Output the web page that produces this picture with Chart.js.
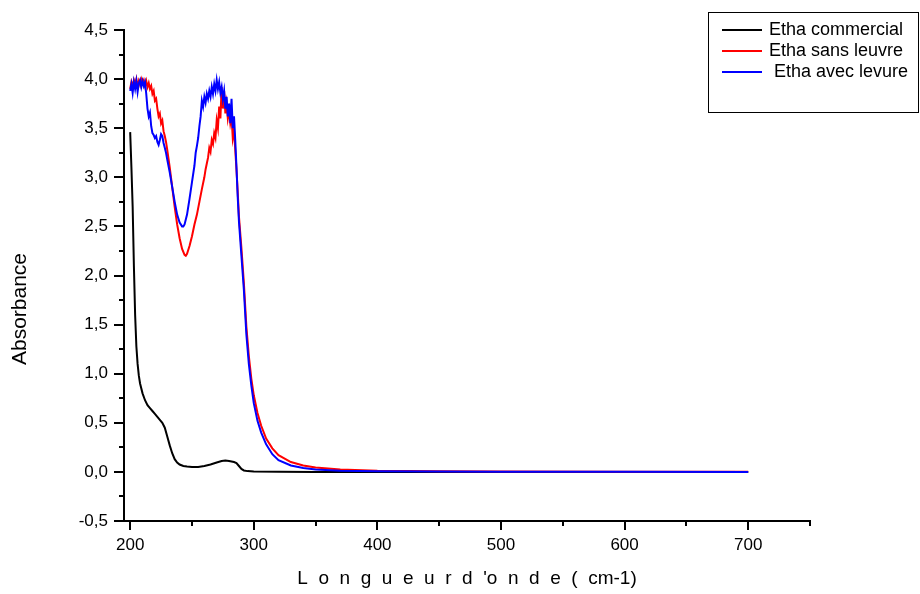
<!DOCTYPE html>
<html>
<head>
<meta charset="utf-8">
<script src="https://cdn.jsdelivr.net/npm/chart.js@4.4.1/dist/chart.umd.min.js"></script>
<style>
  html, body { margin: 0; padding: 0; background: #fff; }
  #wrap { width: 920px; height: 594px; position: relative; }
</style>
</head>
<body>
<div id="wrap"><canvas id="c"></canvas></div>
<script>
// Wavelength (nm) and absorbance for each sample
const commercialNm = [200,201,202,203,204,205,206,207,208,210,212,214,216,218,220,222,224,226,228,230,232,234,236,238,240,243,246,250,255,260,265,270,274,277,280,284,286,288,290,292,295,300,320,350,400,500,600,700];
const commercialAbs = [3.46,3.10,2.70,2.10,1.60,1.28,1.10,0.98,0.90,0.80,0.73,0.68,0.65,0.62,0.59,0.56,0.53,0.50,0.45,0.36,0.27,0.19,0.13,0.095,0.075,0.06,0.055,0.05,0.05,0.06,0.075,0.095,0.11,0.115,0.11,0.10,0.09,0.06,0.03,0.015,0.008,0.005,0.002,0.0,-0.002,-0.002,-0.002,-0.002];

const sansNm = [200,201,202,203,204,205,206,207,208,209,210,211,212,213,214,215,216,217,218,219,220,221,222,223,224,225,226,227,228,229,230,232,234,236,238,240,242,244,245,246,248,250,252,254,256,258,260,261,262,263,264,265,266,267,268,269,270,271,272,273,274,275,276,277,278,279,280,281,282,283,284,285,286,287,288,290,292,294,296,298,300,303,306,310,315,320,330,340,350,370,400,450,500,600,700];
const sansAbs = [3.90,3.97,3.93,3.99,3.95,4.00,3.92,3.98,3.94,4.00,3.96,3.99,3.93,3.98,3.92,3.96,3.90,3.93,3.85,3.88,3.78,3.80,3.70,3.62,3.65,3.55,3.58,3.47,3.42,3.36,3.28,3.10,2.90,2.70,2.52,2.38,2.27,2.21,2.20,2.22,2.30,2.40,2.52,2.62,2.75,2.88,3.00,3.08,3.14,3.20,3.30,3.26,3.38,3.34,3.45,3.40,3.58,3.50,3.72,3.60,3.92,3.70,3.88,3.65,3.75,3.60,3.68,3.55,3.62,3.40,3.48,3.28,3.08,2.85,2.60,2.28,1.92,1.48,1.18,0.95,0.78,0.60,0.47,0.34,0.24,0.17,0.10,0.065,0.045,0.025,0.012,0.006,0.004,0.002,0.001];

const avecNm = [200,201,202,203,204,205,206,207,208,209,210,211,212,213,214,215,216,217,218,219,220,221,222,223,224,225,226,227,228,229,230,232,234,236,238,240,242,243,244,246,248,250,252,253,254,255,256,257,258,259,260,261,262,263,264,265,266,267,268,269,270,271,272,273,274,275,276,277,278,279,280,281,282,283,284,285,286,287,288,290,292,294,296,298,300,303,306,310,315,320,330,340,350,370,400,450,500,600,700];
const avecAbs = [3.88,3.95,3.86,3.97,3.90,3.98,3.87,3.96,3.99,3.92,3.98,3.93,3.97,3.85,3.70,3.62,3.66,3.52,3.45,3.43,3.40,3.42,3.36,3.33,3.38,3.44,3.42,3.35,3.30,3.25,3.18,3.05,2.90,2.75,2.62,2.54,2.50,2.50,2.52,2.62,2.78,2.95,3.12,3.25,3.32,3.40,3.52,3.62,3.78,3.72,3.82,3.76,3.85,3.80,3.88,3.82,3.92,3.85,3.95,3.88,3.99,3.90,3.97,3.86,3.92,3.80,3.88,3.70,3.82,3.62,3.75,3.55,3.80,3.50,3.62,3.38,3.10,2.80,2.55,2.20,1.85,1.40,1.10,0.88,0.70,0.52,0.40,0.28,0.18,0.12,0.065,0.04,0.025,0.012,0.006,0.003,0.002,0.001,0.0];

const xMajorTicks = [200,300,400,500,600,700];
const xMinorTicks = [250,350,450,550,650,750];
const yMajorTicks = [-0.5,0,0.5,1,1.5,2,2.5,3,3.5,4,4.5];
const yMinorTicks = [-0.25,0.25,0.75,1.25,1.75,2.25,2.75,3.25,3.75,4.25];

const seriesNames = ['Etha commercial', 'Etha sans leuvre', ' Etha avec levure'];
const seriesColors = ['#000000', '#ff0000', '#0000ff'];

const FONT = "'Liberation Sans', Arial, sans-serif";

function pts(xs, ys) { return xs.map((x, i) => ({ x: x, y: ys[i] })); }

// Small outward minor tick marks on both axes
const minorTicks = {
  id: 'minorTicks',
  afterDraw(chart) {
    const ctx = chart.ctx, xs = chart.scales.x, ys = chart.scales.y;
    const area = chart.chartArea;
    ctx.save();
    ctx.strokeStyle = '#000';
    ctx.lineWidth = 2;
    ctx.beginPath();
    xMinorTicks.forEach(v => {
      const px = Math.round(xs.getPixelForValue(v));
      ctx.moveTo(px, area.bottom); ctx.lineTo(px, area.bottom + 5);
    });
    yMinorTicks.forEach(v => {
      const py = Math.round(ys.getPixelForValue(v));
      ctx.moveTo(area.left, py); ctx.lineTo(area.left - 5, py);
    });
    ctx.stroke();
    ctx.restore();
  }
};

// Framed legend box and vertical axis title
const decorations = {
  id: 'decorations',
  afterDraw(chart) {
    const ctx = chart.ctx;
    ctx.save();
    ctx.strokeStyle = '#000';
    ctx.lineWidth = 1;
    ctx.strokeRect(708.5, 12.5, 210, 100);
    ctx.font = '18px ' + FONT;
    ctx.textBaseline = 'middle';
    ctx.fillStyle = '#000';
    const rows = [30, 51, 72];
    chart.data.datasets.forEach((ds, i) => {
      ctx.strokeStyle = ds.borderColor;
      ctx.lineWidth = 2;
      ctx.beginPath();
      ctx.moveTo(722, rows[i]); ctx.lineTo(762, rows[i]);
      ctx.stroke();
      ctx.fillText(ds.label, 769, rows[i]);
    });
    ctx.translate(20, 309);
    ctx.rotate(-Math.PI / 2);
    ctx.textAlign = 'center';
    ctx.font = '21px ' + FONT;
    ctx.fillText('Absorbance', 0, 0);
    ctx.restore();
  }
};

new Chart(document.getElementById('c'), {
  type: 'line',
  data: {
    datasets: [
      { label: seriesNames[0], data: pts(commercialNm, commercialAbs), borderColor: seriesColors[0], order: 3 },
      { label: seriesNames[1], data: pts(sansNm, sansAbs), borderColor: seriesColors[1], order: 2 },
      { label: seriesNames[2], data: pts(avecNm, avecAbs), borderColor: seriesColors[2], order: 1 }
    ]
  },
  options: {
    responsive: true,
    maintainAspectRatio: false,
    animation: false,
    parsing: false,
    layout: { padding: { top: 30, right: 110, left: 0, bottom: 0 } },
    elements: {
      point: { radius: 0 },
      line: { borderWidth: 2, tension: 0, fill: false }
    },
    plugins: { legend: { display: false }, tooltip: { enabled: false } },
    scales: {
      x: {
        type: 'linear',
        min: 195, max: 750,
        border: { color: '#000', width: 2 },
        grid: { drawOnChartArea: false, drawTicks: true, tickLength: 9, color: '#000', lineWidth: 2 },
        ticks: { color: '#000', font: { family: FONT, size: 17 }, padding: 5, maxRotation: 0 },
        afterBuildTicks: s => { s.ticks = xMajorTicks.map(v => ({ value: v })); },
        afterFit: s => { s.height = 73; },
        title: {
          display: true,
          text: 'L  o  n  g  u  e  u  r  d  \'o  n  d  e  (  cm-1)',
          color: '#000',
          font: { family: FONT, size: 19 },
          padding: { top: 0, bottom: 4 }
        }
      },
      y: {
        type: 'linear',
        min: -0.5, max: 4.5,
        border: { color: '#000', width: 2 },
        grid: { drawOnChartArea: false, drawTicks: true, tickLength: 10, color: '#000', lineWidth: 2 },
        ticks: {
          color: '#000', font: { family: FONT, size: 17 }, padding: 6,
          callback: v => v.toFixed(1).replace('.', ',')
        },
        afterBuildTicks: s => { s.ticks = yMajorTicks.map(v => ({ value: v })); },
        afterFit: s => { s.width = 124; }
      }
    }
  },
  plugins: [minorTicks, decorations]
});
</script>
</body>
</html>
